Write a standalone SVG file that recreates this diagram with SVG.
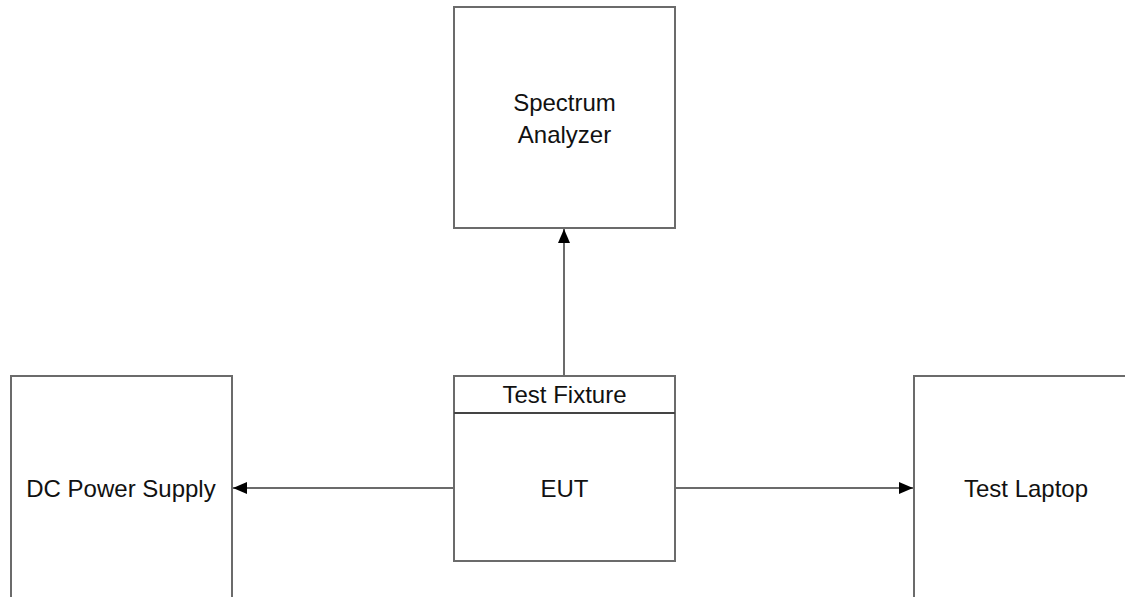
<svg xmlns="http://www.w3.org/2000/svg" width="1125" height="597" viewBox="0 0 1125 597">
<style>
.box{fill:#fff;stroke:#6b6b6b;stroke-width:2}
.lbl{font-family:"Liberation Sans",Arial,sans-serif;font-size:24px;fill:#111;text-anchor:middle;dominant-baseline:central}
.conn{stroke:#6b6b6b;stroke-width:2;fill:none}
</style>
<defs>
<marker id="ah" markerWidth="14" markerHeight="12" refX="14" refY="6" orient="auto" markerUnits="userSpaceOnUse">
<path d="M0,0 L14,6 L0,12 Z" fill="#000"/>
</marker>
</defs>
<rect width="1125" height="597" fill="#fff"/>
<g id="spectrum-analyzer">
<rect class="box" x="454" y="7" width="221" height="221"/>
<text class="lbl" x="564.5" y="102">Spectrum</text>
<text class="lbl" x="564.5" y="134">Analyzer</text>
</g>
<g id="test-fixture">
<rect class="box" x="454" y="376" width="221" height="185"/>
<line x1="454" y1="413" x2="675" y2="413" stroke="#444" stroke-width="2"/>
<text class="lbl" x="564.5" y="394">Test Fixture</text>
<text class="lbl" x="564.5" y="488">EUT</text>
</g>
<g id="dc-power-supply">
<path class="box" d="M11,598 V376 H232 V598"/>
<text class="lbl" x="121" y="488">DC Power Supply</text>
</g>
<g id="test-laptop">
<path class="box" d="M914,598 V376 H1126"/>
<text class="lbl" x="1026" y="488">Test Laptop</text>
</g>
<g id="connectors">
<line class="conn" x1="564" y1="376" x2="564" y2="229" marker-end="url(#ah)"/>
<line class="conn" x1="454" y1="488" x2="233" y2="488" marker-end="url(#ah)"/>
<line class="conn" x1="675" y1="488" x2="913" y2="488" marker-end="url(#ah)"/>
</g>
</svg>
